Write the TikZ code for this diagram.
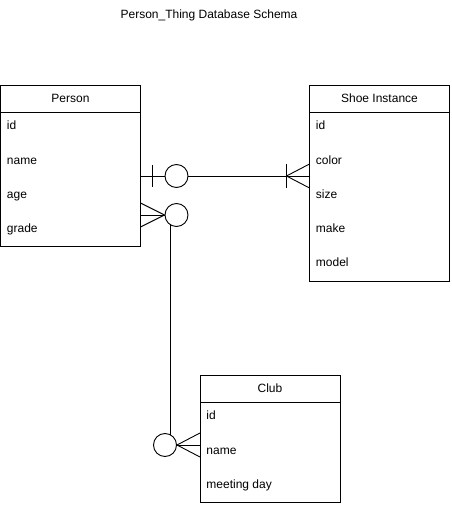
\documentclass[tikz,border=0pt]{standalone}
\usepackage{fontspec}
\setmainfont{Liberation Sans}
\usetikzlibrary{positioning}

\begin{document}
\begin{tikzpicture}[x=1pt, y=1pt, line width=0.9pt, font=\fontsize{12}{14}\selectfont,
	head/.style={draw, rectangle, minimum width=140pt, minimum height=27pt, inner sep=0pt, outer sep=0pt},
	body/.style={draw, rectangle, minimum width=140pt, inner sep=0pt, outer sep=0pt},
	field/.style={anchor=west, inner sep=0pt, text height=8.5pt, text depth=2.5pt},
	ring/.style={draw, circle, fill=white, minimum size=23pt, inner sep=0pt}]
	
	\useasboundingbox (0,0) rectangle (451,507);
	\node (title) at (209,492) {Person\_Thing Database Schema};
	
	\node[head] 									(PersonHead) 	at (70.5,408.5) 	{Person};
	\node[body, minimum height=134pt, below=0pt of PersonHead] 	(PersonBody) 	{};
	\node[head] 									(ShoeHead) 	at (379.5,408.5) 	{Shoe Instance};
	\node[body, minimum height=169pt, below=0pt of ShoeHead] 	(ShoeBody) 	{};
	\node[head] 									(ClubHead) 	at (270,118.5) 	{Club};
	\node[body, minimum height=100pt, below=0pt of ClubHead] 	(ClubBody) 	{};
	
	\foreach \f [count=\i] in {id, name, age, grade}
		\node[field] (p\i) at ([xshift=6pt, yshift={-15pt-34.2pt*(\i-1)}]PersonBody.north west) {\f};
	\foreach \f [count=\i] in {id, color, size, make, model}
		\node[field] (s\i) at ([xshift=6pt, yshift={-15pt-34.2pt*(\i-1)}]ShoeBody.north west) {\f};
	\foreach \f [count=\i] in {id, name, meeting day}
		\node[field] (c\i) at ([xshift=6pt, yshift={-15pt-34.2pt*(\i-1)}]ClubBody.north west) {\f};
	
	\coordinate (PersonShoe) at ([yshift=-64pt]PersonBody.north east);
	\coordinate (ShoePerson) at ([yshift=-64pt]ShoeBody.north west);
	\coordinate (PersonClub) at ([yshift=-103pt]PersonBody.north east);
	\coordinate (ClubPerson) at ([yshift=-43pt]ClubBody.north west);
	
	\draw (PersonShoe) -- (ShoePerson);
	\draw (PersonClub) -- ++(30,0) |- (ClubPerson);
	
	\draw ([xshift=12pt, yshift=11pt]PersonShoe) -- ([xshift=12pt, yshift=-11pt]PersonShoe);
	\node[ring] (r1) at ([xshift=36pt]PersonShoe) {};
	\draw ([xshift=-23pt, yshift=12pt]ShoePerson) -- ([xshift=-23pt, yshift=-12pt]ShoePerson);
	\draw ([yshift=12pt]ShoePerson) -- ([xshift=-23pt]ShoePerson) -- ([yshift=-12pt]ShoePerson);
	
	\draw ([yshift=12pt]PersonClub) -- ([xshift=24pt]PersonClub) -- ([yshift=-12pt]PersonClub);
	\node[ring] (r2) at ([xshift=36pt]PersonClub) {};
	\draw ([yshift=12pt]ClubPerson) -- ([xshift=-23pt]ClubPerson) -- ([yshift=-12pt]ClubPerson);
	\node[ring] (r3) at ([xshift=-35pt]ClubPerson) {};
\end{tikzpicture}
\end{document}
